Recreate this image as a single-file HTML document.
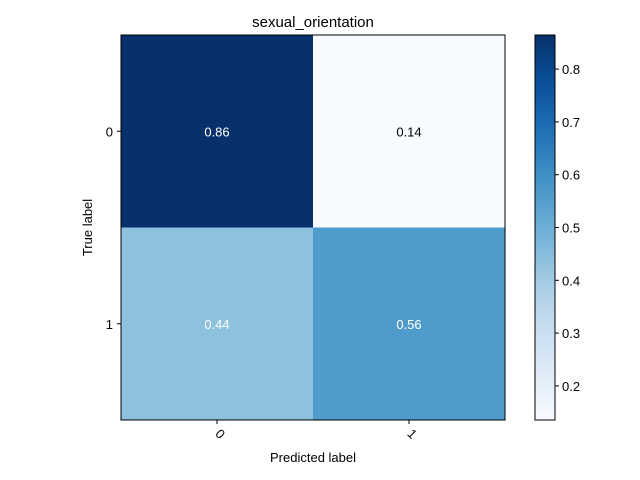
<!DOCTYPE html>
<html><head><meta charset="utf-8"><style>
body{margin:0;background:#fff;}
svg{display:block;font-family:"Liberation Sans","DejaVu Sans",sans-serif;}
</style></head><body>
<svg id="chart" width="640" height="480">
<defs><linearGradient id="cbg" x1="0" y1="1" x2="0" y2="0"></linearGradient></defs>
</svg>
<script>
const classes = ["0","1"];
const cellValues = [[0.8646,0.1354],[0.4375,0.5625]];
const cbTicks = [0.2,0.3,0.4,0.5,0.6,0.7,0.8];
const NS="http://www.w3.org/2000/svg";
const svg=document.getElementById('chart');
const blues=["#f7fbff","#deebf7","#c6dbef","#9ecae1","#6baed6","#4292c6","#2171b5","#08519c","#08306b"];
function hex(h){return [1,3,5].map(i=>parseInt(h.substr(i,2),16));}
function cmap(t){t=Math.max(0,Math.min(1,t));const p=t*8,i=Math.min(7,Math.floor(p)),f=p-i;const a=hex(blues[i]),b=hex(blues[i+1]);return "rgb("+a.map((v,k)=>Math.round(v+(b[k]-v)*f)).join(",")+")";}
function mk(tag,attrs,parent){const e=document.createElementNS(NS,tag);for(const k in attrs)e.setAttribute(k,attrs[k]);(parent||svg).appendChild(e);return e;}
const flat=cellValues.flat();const vmin=Math.min(...flat),vmax=Math.max(...flat);
const ax={x:121,y:35,w:384,h:385};
const n=classes.length;const cw=ax.w/n,ch=ax.h/n;
const xs=j=>ax.x+j*cw, ys=i=>ax.y+i*ch;
const norm=v=>(v-vmin)/(vmax-vmin);
for(let i=0;i<n;i++)for(let j=0;j<n;j++){
 const v=cellValues[i][j];
 const r=mk('rect',{x:xs(j),y:ys(i),width:cw,height:ch,fill:cmap(norm(v))});
 
 
 const t=mk('text',{x:xs(j)+cw/2,y:ys(i)+ch/2+5,'text-anchor':'middle','font-size':13,fill:norm(v)>0.3?'#fff':'#000'});
 t.textContent=v.toFixed(2);
 
 
}
const fr=mk('rect',{x:ax.x,y:ax.y,width:ax.w,height:ax.h,fill:'none',stroke:'#000','stroke-width':1});


for(let k=0;k<n;k++){
 const cx=xs(k)+cw/2;
 mk('line',{x1:cx,x2:cx,y1:ax.y+ax.h,y2:ax.y+ax.h+4,stroke:'#000'});
 const t=mk('text',{x:0,y:0,'text-anchor':'middle','font-size':13,transform:`translate(${cx},${ax.y+ax.h+17}) rotate(45)`});
 t.textContent=classes[k];
 
 
 const cy=ys(k)+ch/2;
 mk('line',{x1:ax.x-4,x2:ax.x,y1:cy,y2:cy,stroke:'#000'});
 const ty=mk('text',{x:ax.x-8,y:cy+5,'text-anchor':'end','font-size':13});
 ty.textContent=classes[k];
 
 
}
const title=mk('text',{x:ax.x+ax.w/2,y:27,'text-anchor':'middle','font-size':15});
title.textContent='sexual_orientation';


const xl=mk('text',{x:ax.x+ax.w/2,y:462,'text-anchor':'middle','font-size':13});
xl.textContent='Predicted label';


const yl=mk('text',{x:0,y:0,'text-anchor':'middle','font-size':13,transform:`translate(92,${ax.y+ax.h/2}) rotate(-90)`});
yl.textContent='True label';


const grad=document.getElementById('cbg');
for(let s=0;s<=20;s++){mk('stop',{offset:(s/20),'stop-color':cmap(s/20)},grad);}
const cb={x:535,y:35,w:20,h:385};
const cbr=mk('rect',{x:cb.x,y:cb.y,width:cb.w,height:cb.h,fill:'url(#cbg)',stroke:'#000'});


const cbY=v=>cb.y+cb.h-(v-vmin)/(vmax-vmin)*cb.h;
cbTicks.forEach(v=>{
 const y=cbY(v);
 mk('line',{x1:cb.x+cb.w,x2:cb.x+cb.w+4,y1:y,y2:y,stroke:'#000'});
 const t=mk('text',{x:cb.x+cb.w+7,y:y+5,'font-size':13});
 t.textContent=v.toFixed(1);
 
 
});
</script>
</body></html>
